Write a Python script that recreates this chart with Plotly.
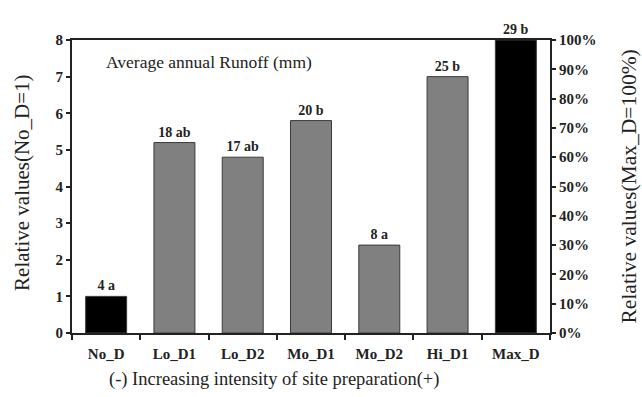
import plotly.graph_objects as go

categories = ["No_D", "Lo_D1", "Lo_D2", "Mo_D1", "Mo_D2", "Hi_D1", "Max_D"]
relative_values = [1.0, 5.2, 4.8, 5.8, 2.4, 7.0, 8.0]
runoff_labels = ["4 a", "18 ab", "17 ab", "20 b", "8 a", "25 b", "29 b"]
bar_colors = ["#000000", "#808080", "#808080", "#808080", "#808080", "#808080", "#000000"]

serif = "Liberation Serif"
ink = "#222222"

fig = go.Figure()
fig.add_trace(go.Bar(
    x=categories,
    y=relative_values,
    text=runoff_labels,
    textposition="outside",
    textfont=dict(family=serif, size=14, color=ink, weight="bold"),
    marker=dict(color=bar_colors, line=dict(color="#3a3a3a", width=1)),
    width=0.6,
    cliponaxis=False,
    showlegend=False,
))
# invisible trace to drive the percentage axis
fig.add_trace(go.Scatter(x=[categories[0]], y=[0], yaxis="y2", mode="markers",
                         marker=dict(opacity=0), showlegend=False, hoverinfo="skip"))

tick_font = dict(family=serif, size=15, weight="bold", color=ink)

fig.update_layout(
    width=642, height=397,
    margin=dict(l=72, r=92, t=40, b=64),
    paper_bgcolor="white", plot_bgcolor="white",
    font=dict(family=serif, color=ink),
    xaxis=dict(
        showline=True, linecolor=ink, linewidth=2, mirror=True,
        ticks="outside", tickson="boundaries", ticklen=5, tickwidth=2, tickcolor=ink,
        tickfont=tick_font, ticklabelstandoff=6,
    ),
    yaxis=dict(
        range=[0, 8], dtick=1, showgrid=False, zeroline=False,
        showline=True, linecolor=ink, linewidth=2,
        ticks="outside", ticklen=4, tickwidth=2, tickcolor=ink,
        tickfont=tick_font,
    ),
    yaxis2=dict(
        overlaying="y", side="right", range=[0, 100], dtick=10, ticksuffix="%",
        showgrid=False, zeroline=False,
        showline=True, linecolor=ink, linewidth=2,
        ticks="outside", ticklen=4, tickwidth=2, tickcolor=ink,
        tickfont=tick_font,
    ),
    annotations=[
        dict(text="Average annual Runoff (mm)", xref="paper", yref="paper",
             x=0.067, y=0.925, xanchor="left", yanchor="middle", showarrow=False,
             font=dict(family=serif, size=17.5, color=ink)),
        dict(text="(-) Increasing intensity of site preparation(+)", xref="paper", yref="paper",
             x=(274 - 72) / 478, y=-0.16, xanchor="center", yanchor="middle",
             showarrow=False, font=dict(family=serif, size=18.5, color=ink)),
        dict(text="Relative values(No_D=1)", xref="paper", yref="paper",
             x=-0.105, y=0.515, xanchor="center", yanchor="middle", textangle=-90,
             showarrow=False, font=dict(family=serif, size=21, color=ink)),
        dict(text="Relative values(Max_D=100%)", xref="paper", yref="paper",
             x=(628 - 72) / 478, y=0.5, xanchor="center", yanchor="middle", textangle=-90,
             showarrow=False, font=dict(family=serif, size=21.5, color=ink)),
    ],
)

fig.write_html("out.html")
